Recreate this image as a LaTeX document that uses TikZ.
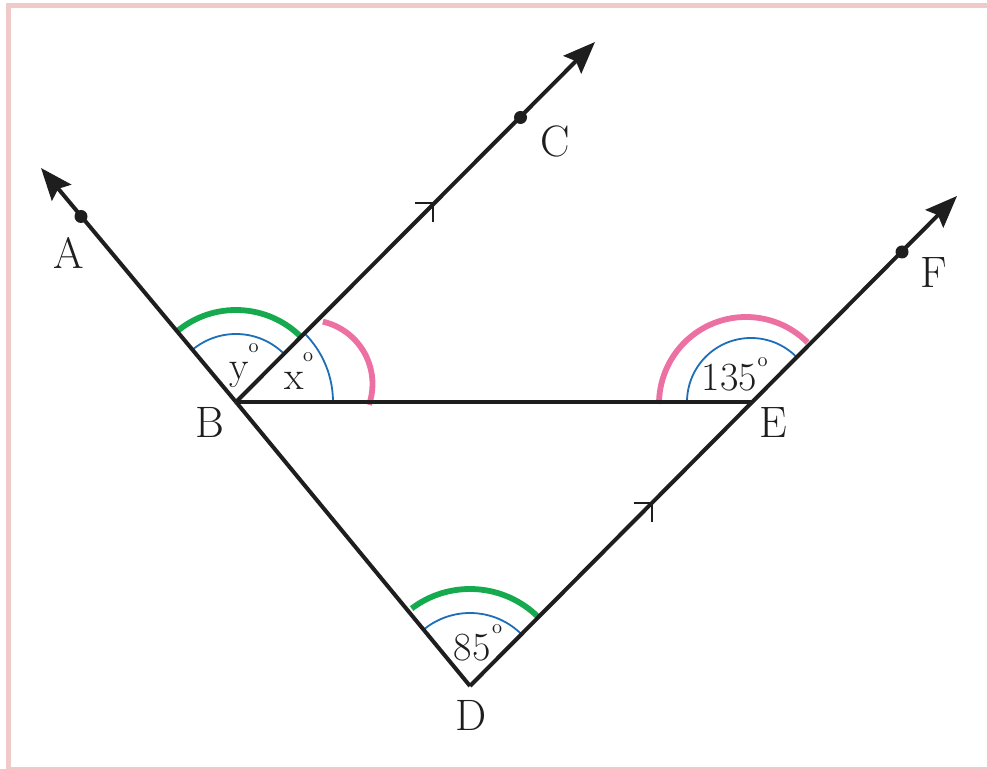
\documentclass[tikz,border=0pt]{standalone}
\usetikzlibrary{arrows.meta}
\definecolor{framepink}{RGB}{240,202,200}
\definecolor{ggreen}{RGB}{22,170,78}
\definecolor{gpink}{RGB}{236,112,162}
\definecolor{gblue}{RGB}{28,110,185}
\definecolor{ink}{RGB}{30,30,30}
\begin{document}
\begin{tikzpicture}[x=0.5pt,y=-0.5pt,
  seg/.style={line width=2pt, ink},
  arr/.style={seg, -{Stealth[length=16pt,width=12.5pt,inset=2.5pt]}},
  gline/.style={line width=2.9pt, ggreen},
  pline/.style={line width=2.9pt, gpink},
  bline/.style={line width=0.9pt, gblue},
  tickmark/.style={line width=1.1pt, ink},
  dotmark/.style={fill=ink},
  ptlabel/.style={inner sep=0pt, text=ink, font=\fontsize{22}{22}\selectfont},
  anglabel/.style={inner sep=0pt, text=ink, font=\fontsize{20}{20}\selectfont},
  deglabel/.style={inner sep=0pt, text=ink, font=\fontsize{10}{10}\selectfont}]
\useasboundingbox (0,0) rectangle (987,769);
\draw[framepink, line width=2.5pt] (8.5,6) rectangle (1005,769.5);

% points
\coordinate (B) at (236,402);
\coordinate (D) at (470,686);
\coordinate (E) at (751,402);
\coordinate (At) at (41,168);
\coordinate (Ad) at (81,216.5);
\coordinate (Ct) at (595,42);
\coordinate (Cd) at (520.5,117.5);
\coordinate (Ft) at (957,196);
\coordinate (Fd) at (902,252);
\coordinate (T1) at (433,203);
\coordinate (T2) at (652,503);
\coordinate (PB) at (308.5,384);
\coordinate (PE) at (746,404);

% angle arcs (drawn below the lines)
\draw[bline] (B) ++(-45:68) arc[start angle=-45, end angle=-130, radius=68];
\draw[gline] (B) ++(-45:92) arc[start angle=-45, end angle=-130, radius=92];
\draw[bline] (B) ++(0:97) arc[start angle=0, end angle=-45, radius=97];
\draw[pline] (PB) ++(-77:64) arc[start angle=-77, end angle=19, radius=64];
\draw[bline] (E) ++(-45:64) arc[start angle=-45, end angle=-180, radius=64];
\draw[pline] (PE) ++(-45:87) arc[start angle=-45, end angle=-180, radius=87];
\draw[bline] (D) ++(-45:73) arc[start angle=-45, end angle=-129.5, radius=73];
\draw[gline] (D) ++(-45:97) arc[start angle=-45, end angle=-127, radius=97];

% lines
\draw[seg] (D) -- (B);
\draw[arr] (B) -- (At);
\draw[arr] (B) -- (Ct);
\draw[seg] (B) -- (E);
\draw[arr] (D) -- (Ft);

% parallel marks
\draw[tickmark] (T1) -- ++(-18,0);
\draw[tickmark] (T1) -- ++(0,19);
\draw[tickmark] (T2) -- ++(-18,0);
\draw[tickmark] (T2) -- ++(0,19);

% dots
\fill[dotmark] (Ad) circle[radius=6.5];
\fill[dotmark] (Cd) circle[radius=6.5];
\fill[dotmark] (Fd) circle[radius=6.5];

% point labels
\node[ptlabel] (lA) at (68.5,253) {A};
\node[ptlabel] (lB) at (210,422) {B};
\node[ptlabel] (lC) at (555,141) {C};
\node[ptlabel] (lD) at (471,715) {D};
\node[ptlabel] (lE) at (773,423) {E};
\node[ptlabel] (lF) at (934,273) {F};

% angle labels
\node[anglabel, anchor=base] (ly) at (239,380) {y};
\node[deglabel] (ly0) at (253.5,348.5) {o};
\node[anglabel, anchor=base] (lx) at (294,390) {x};
\node[deglabel] (lx0) at (308,357.5) {o};
\node[anglabel] (l135) at (729.5,377.5) {135};
\node[deglabel] (l1350) at (762.5,362) {o};
\node[anglabel] (l85) at (472,647.5) {85};
\node[deglabel] (l850) at (497,629.5) {o};
\end{tikzpicture}
\end{document}
